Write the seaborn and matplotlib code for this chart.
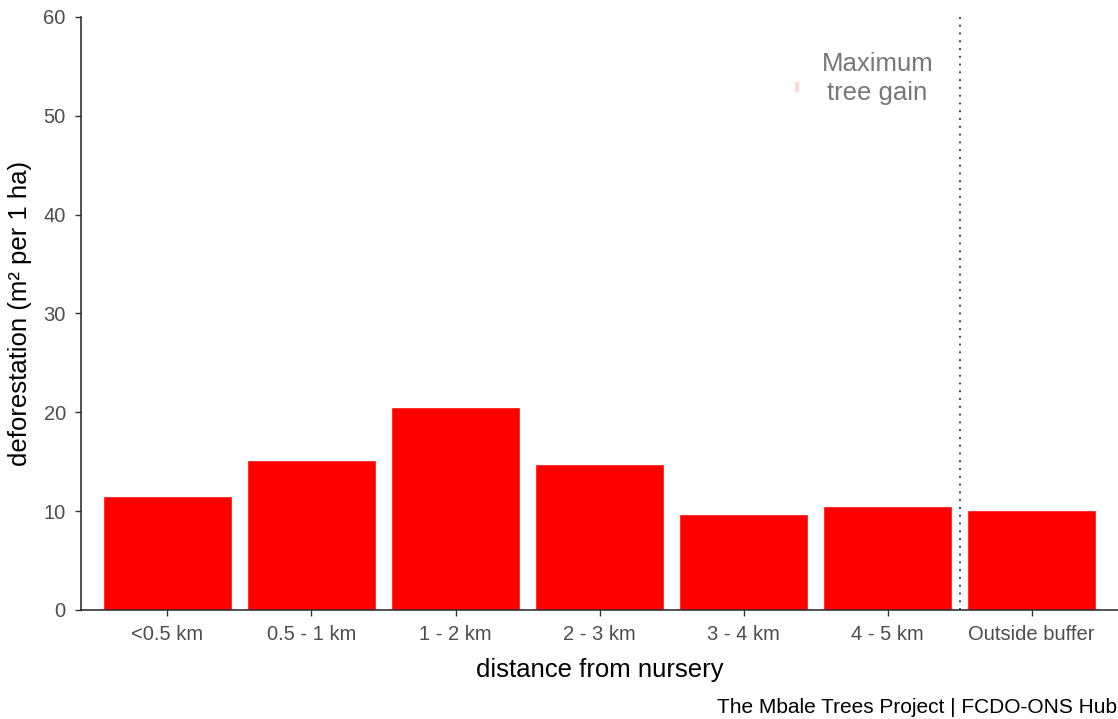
import matplotlib
matplotlib.use("Agg")
import matplotlib.pyplot as plt
import pandas as pd
import seaborn as sns

sns.set_style("ticks")
plt.rcParams["font.family"] = ["Liberation Sans", "DejaVu Sans"]

categories = ["<0.5 km", "0.5 - 1 km", "1 - 2 km", "2 - 3 km", "3 - 4 km", "4 - 5 km", "Outside buffer"]
deforestation = [11.5, 15.2, 20.5, 14.8, 9.7, 10.5, 10.1]

df = pd.DataFrame({"distance": categories, "deforestation": deforestation})

fig = plt.figure(figsize=(11.18, 7.19), dpi=100)
ax = fig.add_axes([0.0725, 0.1516, 0.9275, 0.8248])

sns.barplot(data=df, x="distance", y="deforestation", color="#ff0000",
            saturation=1, width=0.9, ax=ax)

ax.axvline(5.5, color="#444444", linestyle=(0, (1, 3)), linewidth=1.4)
ax.text(4.93, 53.8, "Maximum\ntree gain", ha="center", va="center",
        fontsize=18.5, color="#777777", linespacing=1.25)
ax.plot([4.37], [52.9], marker="|", markersize=7, markeredgewidth=3,
        color="#f4b6a6", alpha=0.5)

ax.set_xlim(-0.6, 6.6)
ax.set_ylim(0, 60)
ax.set_yticks(range(0, 61, 10))
ax.set_xlabel("distance from nursery", fontsize=18.5, color="black", labelpad=10)
ax.set_ylabel("deforestation (m² per 1 ha)", fontsize=18.5, color="black", labelpad=8)
ax.tick_params(axis="both", labelsize=14.5, colors="#4d4d4d", length=4, width=1, pad=7)
ax.tick_params(axis="both", color="#333333")
for s in ["top", "right"]:
    ax.spines[s].set_visible(False)
for s in ["left", "bottom"]:
    ax.spines[s].set_color("#222222")
    ax.spines[s].set_linewidth(1.1)

fig.text(0.999, 0.003, "The Mbale Trees Project | FCDO-ONS Hub", ha="right", va="bottom",
         fontsize=15, color="black")

fig.savefig("out.png", dpi=100)
